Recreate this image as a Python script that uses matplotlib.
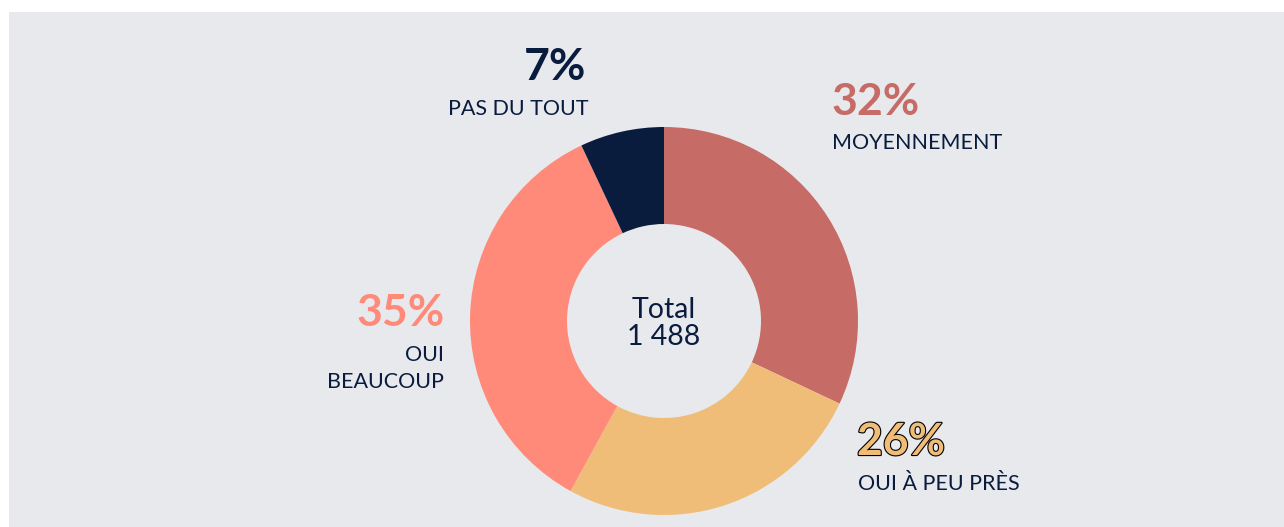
import matplotlib.pyplot as plt
import matplotlib.patheffects as pe
from matplotlib.patches import Rectangle

labels = ["MOYENNEMENT", "OUI À PEU PRÈS", "OUI\nBEAUCOUP", "PAS DU TOUT"]
values = [32, 26, 35, 7]
colors = ["#c66b65", "#f0bd78", "#ff8a7a", "#0a1c3e"]
total = "1 488"

W, H = 1284, 527
NAVY = "#0a1c3e"
BG = "#e8e9ed"

plt.rcParams["font.family"] = ["Lato", "DejaVu Sans"]

fig = plt.figure(figsize=(W / 100, H / 100), dpi=100)
fig.patch.set_facecolor("white")
ax = fig.add_axes([0, 0, 1, 1])

ax.add_patch(Rectangle((9, 0), W - 9, H - 12, facecolor=BG, edgecolor="none", zorder=0))

ax.pie(values, colors=colors, startangle=90, counterclock=False,
       center=(664, H - 321), radius=194, frame=True,
       wedgeprops=dict(width=97, edgecolor="none"))
ax.set_xlim(0, W)
ax.set_ylim(0, H)
ax.set_aspect("equal")
ax.axis("off")


def y(v):
    return H - v


# percentage + label positions (pixel coords from top)
pct_style = dict(fontsize=32, fontweight="bold", va="baseline")
lab_style = dict(fontsize=15.5, color=NAVY, va="baseline")

ax.text(586, y(80), f"{values[3]}%", color=colors[3], ha="right", **pct_style)
ax.text(588, y(115), labels[3], ha="right", **lab_style)

ax.text(831, y(115), f"{values[0]}%", color=colors[0], ha="left", **pct_style)
ax.text(832, y(149), labels[0], ha="left", **lab_style)

ax.text(445, y(326), f"{values[2]}%", color=colors[2], ha="right", **pct_style)
ax.text(444, y(361), "OUI", ha="right", **lab_style)
ax.text(444, y(388), "BEAUCOUP", ha="right", **lab_style)

t = ax.text(857, y(455), f"{values[1]}%", color=colors[1], ha="left", **pct_style)
t.set_path_effects([pe.Stroke(linewidth=1.6, foreground="black"), pe.Normal()])
ax.text(858, y(490), labels[1], ha="left", **lab_style)

ax.text(664, y(318), "Total", ha="center", va="baseline", fontsize=20.5, color=NAVY)
ax.text(664, y(345), total, ha="center", va="baseline", fontsize=20.5, color=NAVY)

fig.savefig("out.png", dpi=100, facecolor="white")
